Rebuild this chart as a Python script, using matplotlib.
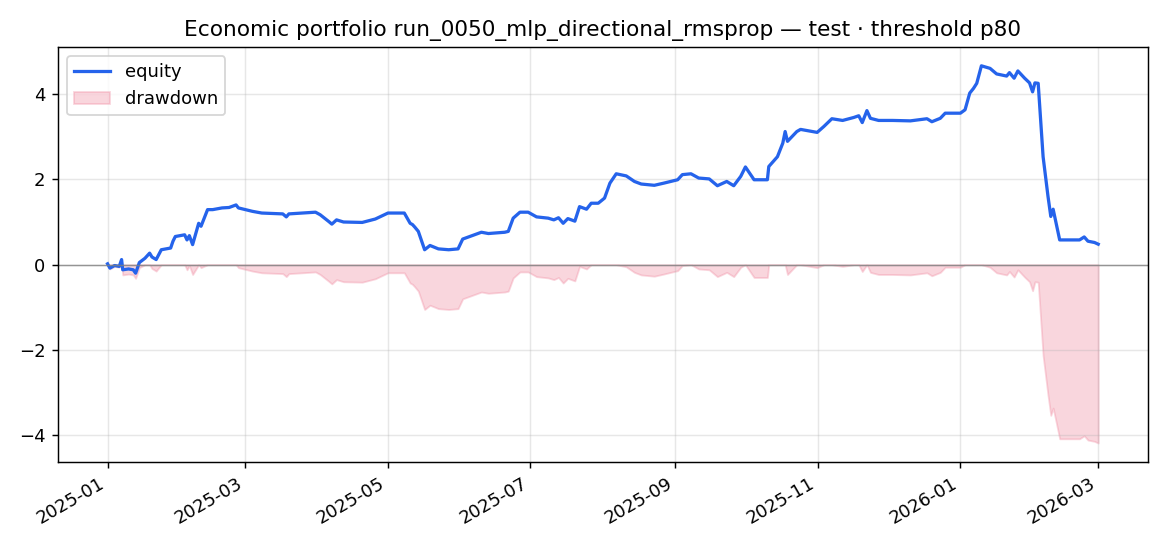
import numpy as np
import pandas as pd
import matplotlib
matplotlib.use("Agg")
import matplotlib.pyplot as plt

# equity curve: days since 2025-01-01, cumulative return
start = pd.Timestamp("2025-01-01")
day = [0, 1, 3, 5, 6, 6.5, 9, 11, 12, 13.6, 16, 18, 19, 20.8, 23, 27, 28, 29,
       33, 34, 35, 36.4, 39, 40, 42.8, 45, 49, 52, 55, 56, 62, 66, 75, 76.5,
       77.6, 89, 91, 94.7, 96, 98, 101, 109, 114.6, 120, 127, 129.5, 130.5,
       131.5, 133, 135.7, 138, 141.6, 146, 150, 152, 157, 160, 163, 170,
       171.5, 173.6, 176.5, 180, 183.6, 188.6, 191, 193, 195, 197, 200, 202,
       205, 207, 210, 212.7, 215, 217.7, 222, 225.5, 228.4, 234, 238, 244,
       246, 249.7, 253, 257.5, 261, 265, 268, 271, 273, 276.7, 282.4, 283,
       286.7, 289, 290, 291, 295, 296.6, 303.7, 306.6, 310, 314.6, 319.4,
       321.5, 323, 325, 326.5, 330, 336, 343.6, 350.7, 352.8, 356.4, 358.5,
       365, 367, 369, 370.6, 372, 374, 377.7, 380.5, 384.8, 386, 388, 389.6,
       392.5, 394.6, 395.9, 396.9, 398.3, 400.4, 402.5, 403.7, 404.7, 406,
       407.5, 416, 418, 419.6, 422.4, 424]
equity = [0.02, -0.08, -0.02, -0.04, 0.12, -0.12, -0.10, -0.12, -0.20, 0.05,
          0.15, 0.27, 0.18, 0.12, 0.35, 0.39, 0.55, 0.66, 0.70, 0.58, 0.68,
          0.47, 0.97, 0.90, 1.29, 1.29, 1.33, 1.34, 1.40, 1.33, 1.25, 1.21,
          1.19, 1.12, 1.19, 1.23, 1.17, 1.01, 0.95, 1.05, 1.00, 0.99, 1.07,
          1.21, 1.21, 0.97, 0.94, 0.88, 0.78, 0.35, 0.45, 0.37, 0.35, 0.37,
          0.60, 0.70, 0.76, 0.73, 0.76, 0.78, 1.09, 1.23, 1.23, 1.12, 1.09,
          1.05, 1.10, 0.97, 1.08, 1.02, 1.36, 1.30, 1.44, 1.44, 1.56, 1.91,
          2.13, 2.08, 1.95, 1.89, 1.86, 1.91, 1.99, 2.11, 2.13, 2.03, 2.01,
          1.85, 1.95, 1.85, 2.07, 2.29, 1.99, 1.99, 2.30, 2.53, 2.85, 3.12,
          2.89, 3.12, 3.17, 3.10, 3.24, 3.42, 3.38, 3.45, 3.49, 3.33, 3.61,
          3.43, 3.38, 3.38, 3.37, 3.42, 3.35, 3.43, 3.55, 3.55, 3.63, 4.02,
          4.13, 4.25, 4.66, 4.60, 4.47, 4.42, 4.50, 4.37, 4.54, 4.37, 4.26,
          4.05, 4.26, 4.25, 2.53, 1.60, 1.13, 1.30, 0.97, 0.58, 0.58, 0.65,
          0.55, 0.52, 0.48]

title = "Economic portfolio run_0050_mlp_directional_rmsprop — test · threshold p80"

if __name__ == '__main__':
    dates = start + pd.to_timedelta(day, unit="D")
    eq = np.array(equity)
    drawdown = eq - np.maximum.accumulate(eq)

    fig, ax = plt.subplots(figsize=(9.0, 4.2), dpi=130)
    ax.plot(dates, eq, color="#2563eb", lw=1.8, label="equity")
    ax.fill_between(dates, drawdown, 0, color="#f08aa0", alpha=0.35,
                    label="drawdown")
    ax.axhline(0, color="gray", lw=0.8, alpha=0.8)
    ax.grid(alpha=0.3)
    ax.set_title(title)
    ax.legend(loc="upper left")
    fig.autofmt_xdate()
    fig.subplots_adjust(left=0.0496, right=0.981, top=0.914, bottom=0.154)
    fig.savefig("out.png", dpi=130)
